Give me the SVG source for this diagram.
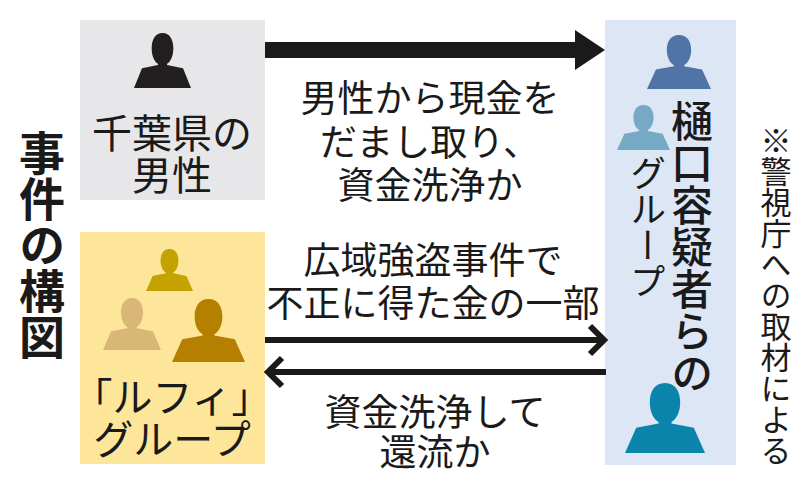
<svg xmlns="http://www.w3.org/2000/svg" width="800" height="484" viewBox="0 0 800 484">
<style>
text{font-family:"Noto Sans CJK JP","Noto Sans CJK SC",sans-serif;fill:#1a1a1a}
.m{font-size:37px;text-anchor:middle}
.b{font-size:40px;text-anchor:middle}
</style>
<defs>
<symbol id="p" viewBox="0 0 100 100" preserveAspectRatio="none" overflow="visible">
<path d="M50 0C37 0 31 12 31 28C31 42 36 52 42 56L42 58L14 64L0 100L100 100L86 64L58 58L58 56C64 52 69 42 69 28C69 12 63 0 50 0Z"/>
</symbol>
</defs>
<rect width="800" height="484" fill="#fff"/>
<g id="chiba">
<rect x="80" y="20" width="185" height="180" fill="#e7e7ea"/>
<use href="#p" x="134" y="33" width="57" height="55" fill="#231f20"/>
<text class="b" x="172" y="148">千葉県の</text>
<text class="b" x="172" y="190">男性</text>
</g>
<g id="luffy">
<rect x="80" y="232" width="185" height="232" fill="#fde69a"/>
<use href="#p" x="146" y="249" width="47" height="42" fill="#c4a300"/>
<use href="#p" x="103" y="298" width="58" height="52" fill="#d9b776"/>
<use href="#p" x="172" y="299" width="73" height="63" fill="#b57f00"/>
<text class="b" x="172" y="412">「ルフィ」</text>
<text class="b" x="172" y="454">グループ</text>
</g>
<g id="higuchi">
<rect x="605" y="20" width="131" height="445" fill="#dde6f4"/>
<use href="#p" x="647" y="35" width="64" height="54" fill="#5074a6"/>
<use href="#p" x="617" y="105" width="53" height="45" fill="#76a9c3"/>
<use href="#p" x="625" y="383" width="80" height="70" fill="#0a84ab"/>
<text style="font-size:42px;writing-mode:vertical-rl;font-weight:500" x="692" y="100">樋口容疑者らの</text>
<text style="font-size:36px;writing-mode:vertical-rl" x="648" y="155">グループ</text>
</g>
<g id="title"><text style="font-size:46px;writing-mode:vertical-rl;font-weight:700" x="42" y="130">事件の構図</text></g>
<g id="note"><text style="font-size:31px;writing-mode:vertical-rl" x="776" y="125">※警視庁への取材による</text></g>
<g id="connectors" fill="#1a1a1a">
<path d="M265 42H575V30L605 50L575 70V58H265Z"/>
<path fill="none" stroke="#1a1a1a" stroke-width="6" d="M590 326L604 340L590 354M265 340H602"/>
<path fill="none" stroke="#1a1a1a" stroke-width="6" d="M282 358L268 372L282 386M606 372H270"/>
</g>
<g id="labels">
<text class="m" x="430" y="112">男性から現金を</text>
<text class="m" x="430" y="156">だまし取り、</text>
<text class="m" x="430" y="199">資金洗浄か</text>
<text class="m" x="433" y="274">広域強盗事件で</text>
<text class="m" x="433" y="317">不正に得た金の一部</text>
<text class="m" x="435" y="426">資金洗浄して</text>
<text class="m" x="435" y="466">還流か</text>
</g>
</svg>
